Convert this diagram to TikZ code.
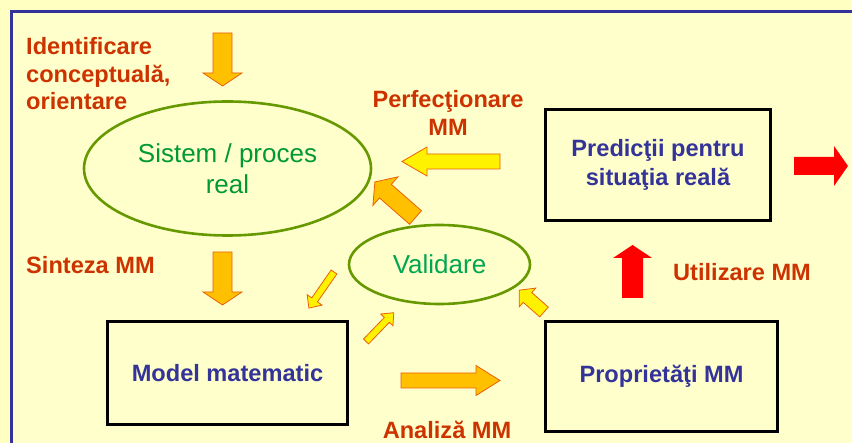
\documentclass[tikz,border=0pt]{standalone}
\usepackage{fontspec}
\setmainfont{Liberation Sans}
\usetikzlibrary{shapes.geometric}
\definecolor{bgin}{HTML}{FFFFCC}
\definecolor{bgout}{HTML}{FFFFC2}
\definecolor{frameblue}{HTML}{333399}
\definecolor{lblred}{HTML}{CC3300}
\definecolor{boxblue}{HTML}{333399}
\definecolor{ellgreen}{HTML}{669900}
\definecolor{txtgreen}{HTML}{009933}
\definecolor{valgreen}{HTML}{00A651}
\definecolor{goldfill}{HTML}{FFC000}
\definecolor{arrowedge}{HTML}{E8600C}
\newcommand\blkarrow[8]{% style, x, y, angle, length, shaft, head width, head length
  \draw[#1, shift={(#2,#3)}, rotate=#4]
    (0,-#6/2) -- (#5-#8,-#6/2) -- (#5-#8,-#7/2) -- (#5,0) -- (#5-#8,#7/2) -- (#5-#8,#6/2) -- (0,#6/2) -- cycle;}
\tikzset{
  lbl/.style={font=\fontsize{23.6pt}{27.5pt}\selectfont\bfseries, text=lblred, inner sep=0pt},
  boxnode/.style={draw=black, line width=3pt, font=\fontsize{23.6pt}{29pt}\selectfont\bfseries, text=boxblue, align=center, inner sep=0pt},
  ellnode/.style={ellipse, draw=ellgreen, line width=2.6pt, inner sep=0pt, font=\fontsize{26pt}{31pt}\selectfont, align=center},
  goldarrow/.style={fill=goldfill, draw=arrowedge, line width=0.8pt},
  yelarrow/.style={fill=yellow, draw=arrowedge, line width=0.8pt},
  redarrow/.style={fill=red, draw=none},
  framestyle/.style={draw=frameblue, line width=3pt}
}
\begin{document}
\begin{tikzpicture}[x=1pt,y=-1pt]
\useasboundingbox (0,0) rectangle (852,443);
\fill[bgout] (0,0) rectangle (852,443);
\fill[bgin] (11.5,11.5) rectangle (852,443);
\draw[framestyle] (11.5,443) -- (11.5,11.5) -- (852,11.5);

% ellipses
\node[ellnode, text=txtgreen, minimum width=287pt, minimum height=134pt] (sist) at (227.5,168.5) {Sistem / proces\\real};
\node[ellnode, text=valgreen, minimum width=181pt, minimum height=79pt] (valid) at (439.5,264.5) {Validare};

% boxes
\node[boxnode, minimum width=240pt, minimum height=103pt] (model) at (227.5,373) {Model matematic};
\node[boxnode, minimum width=232pt, minimum height=110pt] (prop) at (661.5,376.5) {Proprietăţi MM};
\node[boxnode, minimum width=225pt, minimum height=111pt] (pred) at (658,165) {Predicţii pentru\\situaţia reală};

% labels
\node[lbl, anchor=west, align=left] (ident) at (26,74) {Identificare\\conceptuală,\\orientare};
\node[lbl, anchor=west] (sint) at (26,265) {Sinteza MM};
\node[lbl, align=center] (perf) at (448,113) {Perfecţionare\\MM};
\node[lbl, anchor=west] (util) at (673,272) {Utilizare MM};
\node[lbl] (anal) at (447,430) {Analiză MM};

% block arrows
\blkarrow{goldarrow}{222.5}{33}{-90}{53}{19}{39}{13}
\blkarrow{goldarrow}{222.5}{252}{-90}{53}{19}{39}{13}
\blkarrow{yelarrow}{500}{161.5}{180}{98}{15}{29}{25}
\blkarrow{goldarrow}{415.5}{217.5}{138.8}{54}{18}{38}{14}
\blkarrow{yelarrow}{334}{272}{-124.8}{44}{7}{18}{10}
\blkarrow{yelarrow}{366}{341.5}{46}{40}{7}{17}{10}
\blkarrow{yelarrow}{544}{312}{138.7}{33}{13}{25}{11}
\blkarrow{goldarrow}{401}{380.5}{0}{99}{15}{30}{24}
\blkarrow{redarrow}{632.5}{298}{90}{53}{21}{39}{13}
\blkarrow{redarrow}{794}{166}{0}{54}{18}{40}{14}
\end{tikzpicture}
\end{document}
